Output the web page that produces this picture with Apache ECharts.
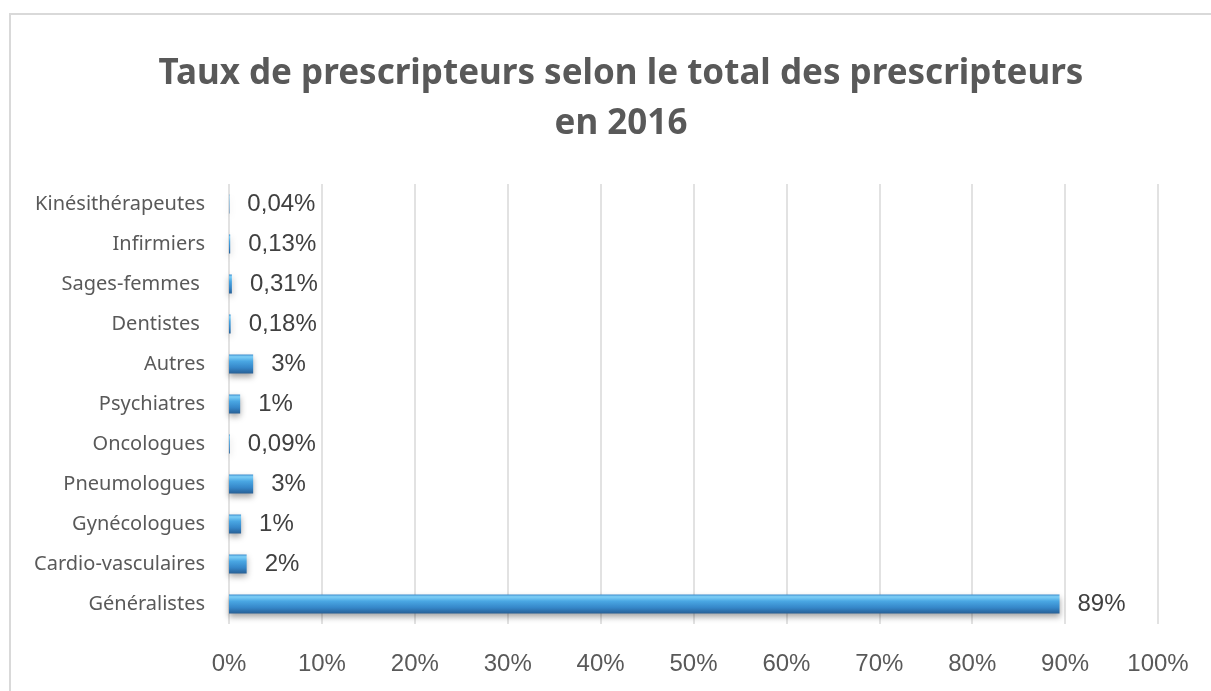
<!DOCTYPE html>
<html><head><meta charset="utf-8">
<script src="https://cdn.jsdelivr.net/npm/echarts@6/dist/echarts.min.js"></script>
<style>html,body{margin:0;padding:0;background:#fff}#c{width:1211px;height:691px}</style>
</head><body><div id="c"></div>
<script>
const categories = ["Généralistes","Cardio-vasculaires","Gynécologues","Pneumologues","Oncologues","Psychiatres","Autres","Dentistes ","Sages-femmes ","Infirmiers","Kinésithérapeutes"];
const values = [89.4, 1.9, 1.3, 2.6, 0.09, 1.2, 2.6, 0.18, 0.31, 0.13, 0.04];
const valueLabels = ["89%","2%","1%","3%","0,09%","1%","3%","0,18%","0,31%","0,13%","0,04%"];
const xTicks = [0,10,20,30,40,50,60,70,80,90,100];

const chart = echarts.init(document.getElementById('c'), null, {renderer:'canvas'});
chart.setOption({
  animation:false,
  backgroundColor:'#fff',
  title:{
    text:'Taux de prescripteurs selon le total des prescripteurs\nen 2016',
    left:616, textAlign:'center', top:44,
    textStyle:{fontFamily:'Noto Sans', fontWeight:'bold', fontSize:35, color:'#595959', lineHeight:50}
  },
  graphic:[{type:'rect', shape:{x:10,y:14,width:1240,height:720}, style:{fill:'none', stroke:'#d9d9d9', lineWidth:2}, silent:true}],
  grid:{left:229, right:53, top:184, bottom:67, containLabel:false},
  xAxis:{
    type:'value', min:0, max:100, interval:10,
    axisLine:{show:false}, axisTick:{show:false},
    splitLine:{show:true, lineStyle:{color:'#d9d9d9', width:1.5}},
    axisLabel:{formatter:v=>v+'%', margin:28, fontFamily:'Liberation Sans', fontSize:24, color:'#595959'}
  },
  yAxis:{
    type:'category', data:categories,
    axisLine:{show:false}, axisTick:{show:false},
    axisLabel:{margin:24, fontFamily:'Noto Sans', fontSize:20, color:'#595959'}
  },
  series:[{
    type:'bar', data:values, barWidth:19,
    itemStyle:{
      color:new echarts.graphic.LinearGradient(0,0,0,1,[
        {offset:0,color:'#3f8fcf'},{offset:0.12,color:'#7fd0f7'},{offset:0.35,color:'#4aa7e3'},
        {offset:0.7,color:'#3586c8'},{offset:1,color:'#275f95'}]),
      shadowColor:'rgba(0,0,0,0.35)', shadowBlur:6, shadowOffsetY:3
    },
    label:{show:true, position:'right', distance:18, fontFamily:'Liberation Sans', fontSize:24, color:'#404040',
      formatter:p=>valueLabels[p.dataIndex]}
  }]
});
</script></body></html>
